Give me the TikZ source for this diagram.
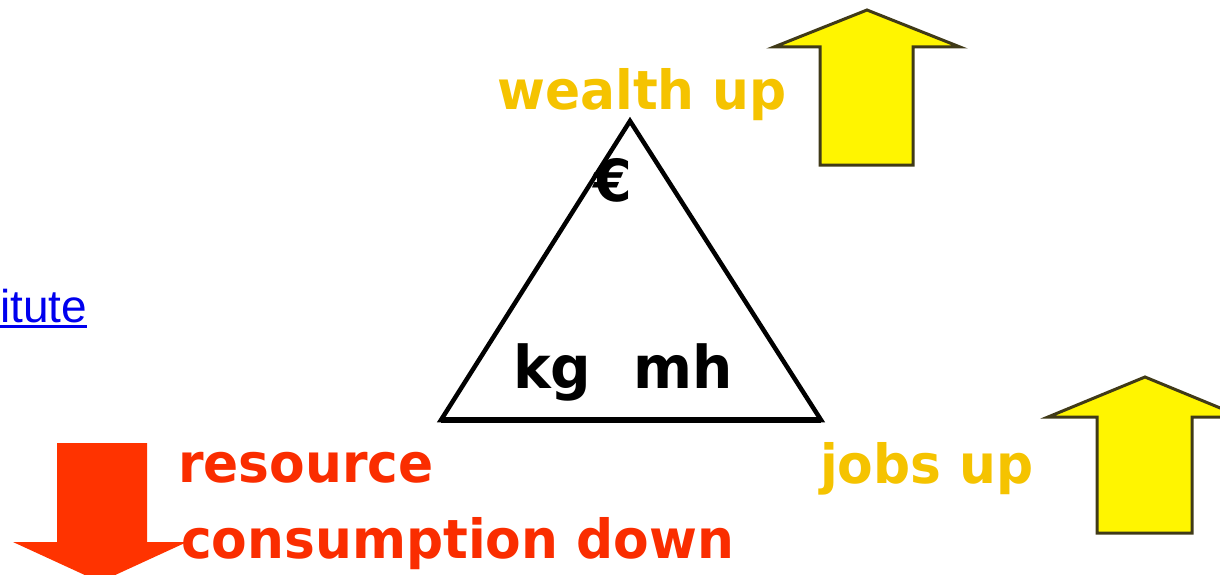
\documentclass[tikz,border=0pt]{standalone}
\usepackage{fontspec}
\newfontfamily\lblfont[FakeStretch=0.96]{DejaVu Sans}
\newfontfamily\linkfont{Liberation Sans}
\definecolor{goldtxt}{RGB}{245,195,0}
\definecolor{redtxt}{RGB}{250,45,0}
\definecolor{arrowyellow}{RGB}{255,245,0}
\definecolor{arrowedge}{RGB}{64,58,24}
\definecolor{arrowred}{RGB}{255,51,0}
\definecolor{linkblue}{RGB}{0,0,238}
\begin{document}
\begin{tikzpicture}[x=1pt,y=-1pt,
  lbl/.style={inner sep=0pt, anchor=base west, font=\lblfont\bfseries\fontsize{54}{62}\selectfont},
  uparrow/.style={fill=arrowyellow, draw=arrowedge, line width=3pt, line join=miter},
  downarrow/.style={fill=arrowred},
  triline/.style={line width=4.5pt, line join=miter}]
\useasboundingbox (0,0) rectangle (1220,575);
\clip (0,0) rectangle (1220,575);
% arrows
\path[uparrow] (820,165) -- (820,47) -- (774,47) -- (867,10) -- (960,47) -- (913,47) -- (913,165) -- cycle;
\path[uparrow] (1097,533) -- (1097,417) -- (1048,417) -- (1145,377) -- (1242,417) -- (1192,417) -- (1192,533) -- cycle;
\path[downarrow] (57,443) -- (147,443) -- (147,542) -- (187,542) -- (100,582) -- (13,542) -- (57,542) -- cycle;
% triangle
\coordinate (apex) at (630,121);
\coordinate (bl) at (441,420);
\coordinate (br) at (821,420);
\draw[triline] (apex) -- (br) -- (bl) -- cycle;
\draw[line width=6pt] (bl) -- (br);
% texts
\node[lbl, text=goldtxt] (wealth) at (497,110) {wealth up};
\node[lbl, text=goldtxt] (jobs) at (820,483) {jobs up};
\node[lbl, text=redtxt] (res) at (178,482) {resource};
\node[lbl, text=redtxt] (cons) at (181,558) {consumption down};
\node[lbl, font=\lblfont\bfseries\fontsize{59}{66}\selectfont] (kgmh) at (513,388) {kg\hspace{42pt}mh};
\node[lbl, font=\lblfont\bfseries\fontsize{58}{66}\selectfont] (euro) at (593,201) {€};
\node[anchor=base west, inner sep=0pt, text=linkblue, font=\linkfont\fontsize{46}{52}\selectfont] (link) at (0,322) {itute};
\draw[linkblue, line width=3pt] ([yshift=-4pt]link.base west) -- ([yshift=-4pt]link.base east);
\end{tikzpicture}
\end{document}
